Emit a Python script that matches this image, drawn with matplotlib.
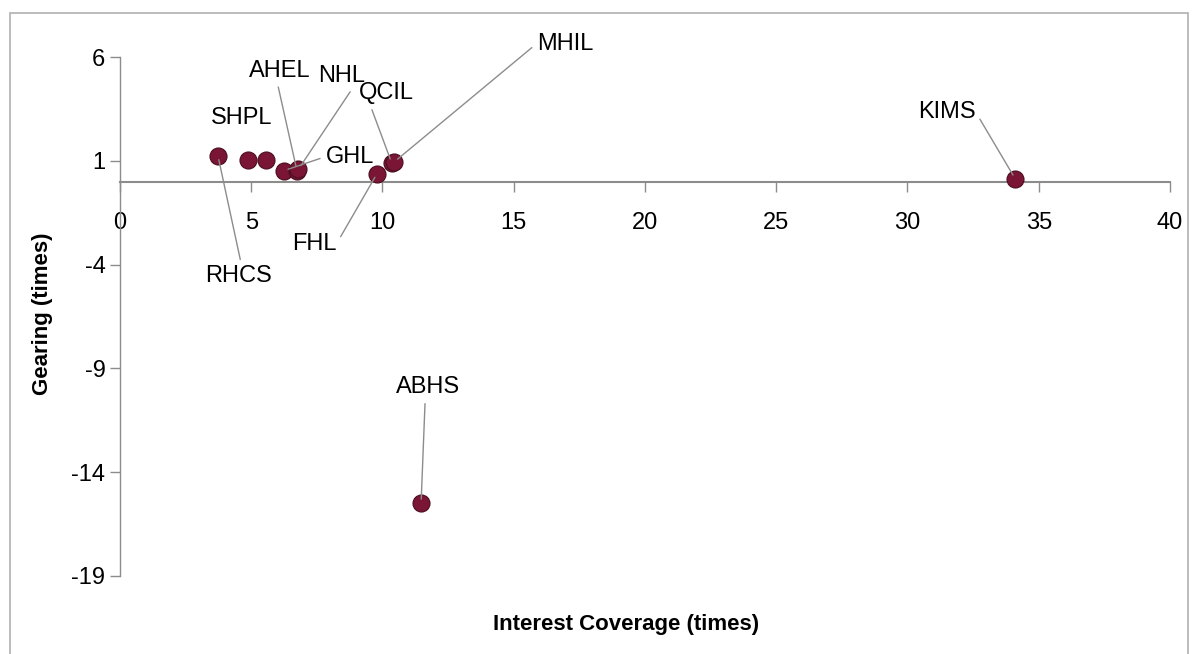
import matplotlib
matplotlib.use("Agg")
import matplotlib.pyplot as plt
from matplotlib.patches import Rectangle

# dados
empresas = ["RHCS", "SHPL", "", "GHL", "AHEL", "NHL", "FHL", "QCIL", "MHIL", "ABHS", "KIMS"]
cobertura = [3.73, 4.88, 5.56, 6.25, 6.74, 6.80, 9.79, 10.35, 10.45, 11.47, 34.1]
alavancagem = [1.25, 1.06, 1.06, 0.53, 0.53, 0.60, 0.38, 0.90, 0.95, -15.5, 0.14]

x_ticks = [0, 5, 10, 15, 20, 25, 30, 35, 40]
y_ticks = [6, 1, -4, -9, -14, -19]

# posicao dos rotulos (texto) e ponto de onde sai a linha guia
rotulos = {
    "RHCS": ((4.50, -4.55), (0.55, 1.0), True),
    "SHPL": ((4.65, 3.05), None, False),
    "GHL": ((8.75, 1.20), (0.0, 0.5), True),
    "AHEL": ((6.10, 5.35), (0.45, 0.0), True),
    "NHL": ((8.45, 5.10), (0.75, 0.0), True),
    "FHL": ((7.40, -3.00), (1.0, 0.5), True),
    "QCIL": ((10.15, 4.25), (0.2, 0.0), True),
    "MHIL": ((16.95, 6.65), (0.0, 0.5), True),
    "ABHS": ((11.75, -9.90), (0.45, 0.0), True),
    "KIMS": ((31.50, 3.35), (1.0, 0.5), True),
}

plt.rcParams["font.family"] = ["Liberation Sans", "DejaVu Sans"]
plt.rcParams["axes.unicode_minus"] = False

fig = plt.figure(figsize=(11.94, 6.54), dpi=100)
fig.patches.append(Rectangle((0.008, -0.01), 0.987, 0.99, transform=fig.transFigure,
                             fill=False, edgecolor="#b0b0b0", linewidth=1.2))

ax = fig.add_axes([0.1005, 0.1193, 0.8794, 0.7935])

ax.scatter(cobertura, alavancagem, s=150, color="#7a1535", edgecolors="#4a0d20",
           linewidths=0.8, zorder=3)

for nome, x, y in zip(empresas, cobertura, alavancagem):
    if nome == "":
        continue
    pos, rel, linha = rotulos[nome]
    if linha:
        ax.annotate(nome, xy=(x, y), xytext=pos, ha="center", va="center",
                    fontsize=17, color="black",
                    arrowprops=dict(arrowstyle="-", color="#8c8c8c", lw=1.0,
                                    shrinkA=2, shrinkB=3, relpos=rel))
    else:
        ax.text(pos[0], pos[1], nome, ha="center", va="center", fontsize=17)

ax.set_xlim(0, 40)
ax.set_ylim(-19, 6)
ax.set_xticks(x_ticks)
ax.set_yticks(y_ticks)
ax.tick_params(axis="both", labelsize=17, colors="black", length=7, width=1,
               direction="out")
ax.tick_params(axis="x", pad=15, color="#8c8c8c")
ax.tick_params(axis="y", color="#8c8c8c")

ax.spines["top"].set_visible(False)
ax.spines["right"].set_visible(False)
ax.spines["bottom"].set_position(("data", 0))
ax.spines["bottom"].set_color("#8c8c8c")
ax.spines["bottom"].set_linewidth(1.5)
ax.spines["left"].set_color("#8c8c8c")
ax.spines["left"].set_linewidth(1.0)

fig.text(0.524, 0.045, "Interest Coverage (times)", ha="center", va="center",
         fontsize=16, fontweight="bold")
fig.text(0.036, 0.52, "Gearing (times)", ha="center", va="center", rotation=90,
         fontsize=16, fontweight="bold")

fig.savefig("out.png", dpi=100)
plt.close()
